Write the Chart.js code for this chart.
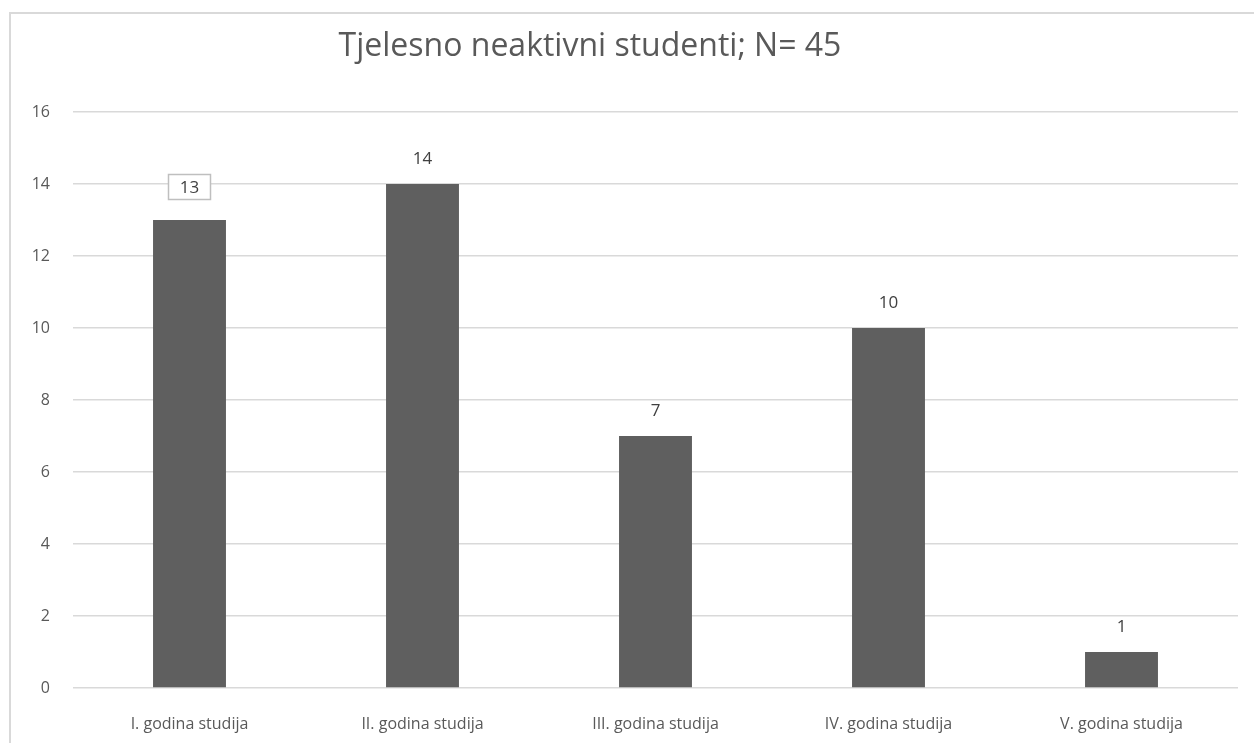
<!DOCTYPE html>
<html>
<head>
<meta charset="utf-8">
<script src="https://cdn.jsdelivr.net/npm/chart.js@4"></script>
<style>
  body { margin: 0; background: #fff; }
  #wrap { position: relative; width: 1254px; height: 743px; overflow: hidden; }
  #frame { position: absolute; left: 9px; top: 12px; width: 1300px; height: 800px;
           border-left: 2px solid #d9d9d9; border-top: 2px solid #d9d9d9; box-sizing: border-box; }
  canvas { position: absolute; left: 0; top: 0; }
</style>
</head>
<body>
<div id="wrap">
  <div id="frame"></div>
  <canvas id="chart" width="1254" height="743"></canvas>
</div>
<script>
// podaci s grafa
const categories = ['I. godina studija', 'II. godina studija', 'III. godina studija', 'IV. godina studija', 'V. godina studija'];
const values = [13, 14, 7, 10, 1];
const yTicks = [0, 2, 4, 6, 8, 10, 12, 14, 16];
const chartTitle = 'Tjelesno neaktivni studenti; N= 45';
const boxedIndex = 0; // oznaka "13" ima okvir

const FONT = '"Open Sans", "Liberation Sans", sans-serif';

// naslov i oznake vrijednosti
const labelsPlugin = {
  id: 'labelsPlugin',
  afterDatasetsDraw(chart) {
    const ctx = chart.ctx;
    ctx.save();
    ctx.font = '32px ' + FONT;
    ctx.fillStyle = '#595959';
    ctx.textAlign = 'center';
    ctx.textBaseline = 'middle';
    ctx.fillText(chartTitle, 590, 47);

    ctx.font = '17px ' + FONT;
    ctx.fillStyle = '#404040';
    chart.getDatasetMeta(0).data.forEach((bar, i) => {
      const v = String(values[i]);
      if (i === boxedIndex) {
        const cy = bar.y - 33;
        ctx.fillStyle = '#fff';
        ctx.fillRect(bar.x - 21, cy - 12.5, 42, 25);
        ctx.strokeStyle = '#bfbfbf';
        ctx.lineWidth = 1.5;
        ctx.strokeRect(bar.x - 21, cy - 12.5, 42, 25);
        ctx.fillStyle = '#404040';
        ctx.fillText(v, bar.x, cy + 1);
      } else {
        ctx.fillText(v, bar.x, bar.y - 25);
      }
    });
    ctx.restore();
  }
};

new Chart(document.getElementById('chart'), {
  type: 'bar',
  data: {
    labels: categories,
    datasets: [{
      data: values,
      backgroundColor: '#5f5f5f',
      categoryPercentage: 1,
      barPercentage: 0.313
    }]
  },
  options: {
    responsive: false,
    animation: false,
    layout: { padding: { top: 112, right: 16, left: 0, bottom: 0 } },
    plugins: {
      legend: { display: false },
      tooltip: { enabled: false }
    },
    scales: {
      x: {
        grid: { display: false },
        border: { display: false },
        ticks: { color: '#595959', font: { family: FONT, size: 16 }, padding: 19 },
        afterFit(s) { s.height = 55; }
      },
      y: {
        min: 0,
        max: 16,
        afterBuildTicks(s) { s.ticks = yTicks.map(v => ({ value: v })); },
        grid: { color: '#d9d9d9', lineWidth: 1.5, drawTicks: false },
        border: { display: false },
        ticks: { color: '#595959', font: { family: FONT, size: 16 }, padding: 23 },
        afterFit(s) { s.width = 73; }
      }
    }
  },
  plugins: [labelsPlugin]
});
</script>
</body>
</html>
